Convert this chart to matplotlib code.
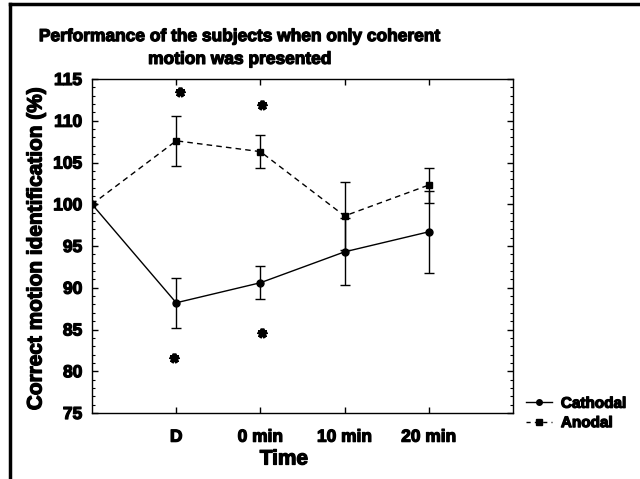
import numpy as np
import matplotlib
matplotlib.use('Agg')
import matplotlib.pyplot as plt
import matplotlib.patheffects as pe
from matplotlib.lines import Line2D
from matplotlib.ticker import MultipleLocator

plt.rcParams['font.family'] = ['Liberation Sans', 'DejaVu Sans']
plt.rcParams['font.weight'] = 'bold'

# 数据
x_pos = [0, 1, 2, 3, 4]
x_labels = ['D', '0 min', '10 min', '20 min']
cathodal = [100, 88.2, 90.6, 94.3, 96.7]
cathodal_err = [0, 3.0, 2.0, 4.0, 4.9]
anodal = [100, 107.6, 106.3, 98.6, 102.3]
anodal_err = [0, 3.0, 2.0, 4.1, 2.1]
star_x = [1.04, 0.97, 2.02, 2.02]
star_y = [113.5, 81.6, 111.9, 84.6]

heavy = [pe.withStroke(linewidth=0.9, foreground='black')]

fig = plt.figure(figsize=(6.4, 4.79), dpi=100)
ax = fig.add_axes([92 / 640, 66 / 479, 421 / 640, 334 / 479])

ax.errorbar(x_pos, cathodal, yerr=cathodal_err, color='black', lw=1,
            marker='o', ms=5, capsize=3.5, elinewidth=1, capthick=1,
            label='Cathodal')
ax.errorbar(x_pos, anodal, yerr=anodal_err, color='black', lw=1, ls='--',
            dashes=(4, 3), marker='s', ms=5, capsize=3.5, elinewidth=1,
            capthick=1, label='Anodal')
ax.plot(star_x, star_y, ls='none', marker=(5, 2, 0), ms=7, mew=2.8,
        color='black')

ax.set_xlim(0, 5)
ax.set_ylim(75, 115)
ax.set_xticks([1, 2, 3, 4])
ax.set_xticklabels(x_labels)
ax.yaxis.set_major_locator(MultipleLocator(5))
ax.yaxis.set_minor_locator(MultipleLocator(1))
ax.tick_params(axis='both', direction='in', top=True, right=True,
               labelsize=12.5, width=1, length=4)
ax.tick_params(axis='x', pad=12)
ax.tick_params(axis='y', pad=7)
ax.tick_params(axis='y', which='minor', direction='in', right=True,
               length=2, width=0.8)
for s in ax.spines.values():
    s.set_linewidth(1)
for lab in ax.get_xticklabels() + ax.get_yticklabels():
    lab.set_path_effects(heavy)

fig.text(284 / 640, 1 - 459 / 479, 'Time', ha='center', va='center',
         fontsize=15, fontweight='bold', path_effects=heavy)
fig.text(36 / 640, 1 - 248 / 479, 'Correct motion identification (%)',
         rotation=90, ha='center', va='center', fontsize=15,
         fontweight='bold', path_effects=heavy)
fig.text(240 / 640, 1 - 48 / 479,
         'Performance of the subjects when only coherent\nmotion was presented',
         ha='center', va='center', fontsize=12.5, fontweight='bold',
         linespacing=1.65, path_effects=heavy)

handles = [Line2D([], [], color='black', lw=1, marker='o', ms=4),
           Line2D([], [], color='black', lw=1, ls='--', dashes=(3, 3),
                  marker='s', ms=4)]
leg = fig.legend(handles, ['Cathodal', 'Anodal'], loc='upper left',
                 bbox_to_anchor=(512 / 640, 1 - 383 / 479), frameon=False,
                 fontsize=11, handlelength=1.7, handletextpad=0.6,
                 labelspacing=0.35)
for t in leg.get_texts():
    t.set_path_effects(heavy)

# 外边框
fig.add_artist(Line2D([10 / 640, 1], [1 - 4 / 479, 1 - 4 / 479],
                      color='black', lw=2.5, transform=fig.transFigure))
fig.add_artist(Line2D([10 / 640, 10 / 640], [0, 1 - 4 / 479],
                      color='black', lw=2.5, transform=fig.transFigure))

plt.savefig('out.png', dpi=100)
